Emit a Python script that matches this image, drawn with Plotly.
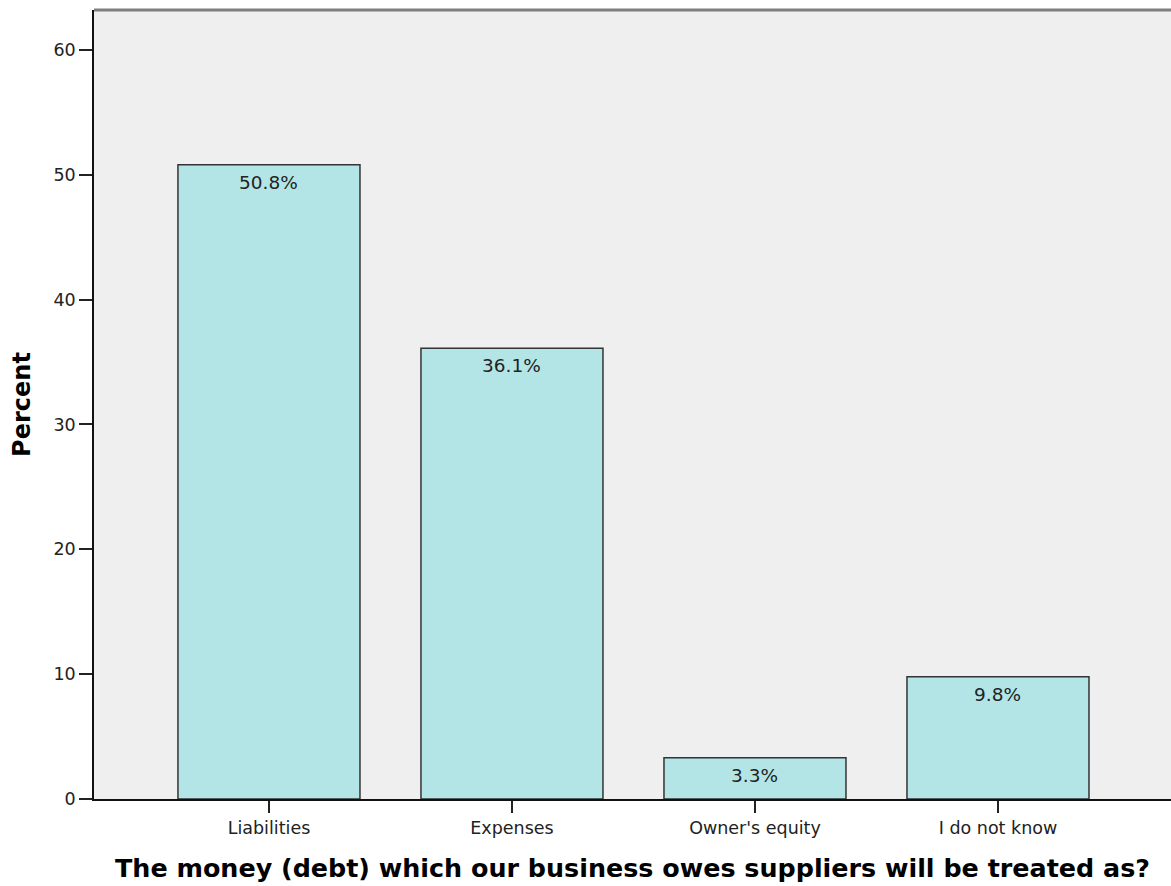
import plotly.graph_objects as go

categories = ["Liabilities", "Expenses", "Owner's equity", "I do not know"]
percents = [50.8, 36.1, 3.3, 9.8]
y_ticks = [0, 10, 20, 30, 40, 50, 60]

x_pos = list(range(len(categories)))
labels = [f"{v:.1f}%" for v in percents]

FONT = "DejaVu Sans, Verdana, sans-serif"

fig = go.Figure()
fig.add_trace(go.Bar(
    x=x_pos,
    y=percents,
    width=0.749,
    marker=dict(color="#b3e5e7", line=dict(color="#333333", width=1.5)),
    hoverinfo="skip",
))

for xp, v, t in zip(x_pos, percents, labels):
    fig.add_annotation(
        x=xp, y=v, text=t, showarrow=False,
        yanchor="top", yshift=-5,
        font=dict(family=FONT, size=18.5, color="#222222"),
    )

# thin grey frame line across the top of the plotting area
fig.add_shape(type="line", xref="paper", yref="paper", x0=0, x1=1, y0=1, y1=1,
              line=dict(color="#7f7f7f", width=3))

fig.update_layout(
    width=1171, height=886,
    margin=dict(l=94, r=0, t=10, b=87),
    paper_bgcolor="white",
    plot_bgcolor="#efefef",
    showlegend=False,
    font=dict(family=FONT, size=17.5, color="#222222"),
    xaxis=dict(
        range=[-0.72, 3.712],
        tickmode="array", tickvals=x_pos, ticktext=categories,
        ticks="outside", ticklen=12, tickwidth=1.5, tickcolor="#222222",
        showline=True, linecolor="#111111", linewidth=1.5,
        showgrid=False, zeroline=False,
        title=dict(text="<b>The money (debt) which our business owes suppliers will be treated as?</b>",
                   font=dict(size=25.4, color="#000000"), standoff=22),
    ),
    yaxis=dict(
        range=[0, 63.2],
        tickmode="array", tickvals=y_ticks,
        ticks="outside", ticklen=13, tickwidth=1.5, tickcolor="#222222",
        showline=True, linecolor="#111111", linewidth=1.5,
        showgrid=False, zeroline=False,
        title=dict(text="<b>Percent</b>", font=dict(size=24, color="#000000"), standoff=16),
    ),
)

fig.write_html("out.html")
